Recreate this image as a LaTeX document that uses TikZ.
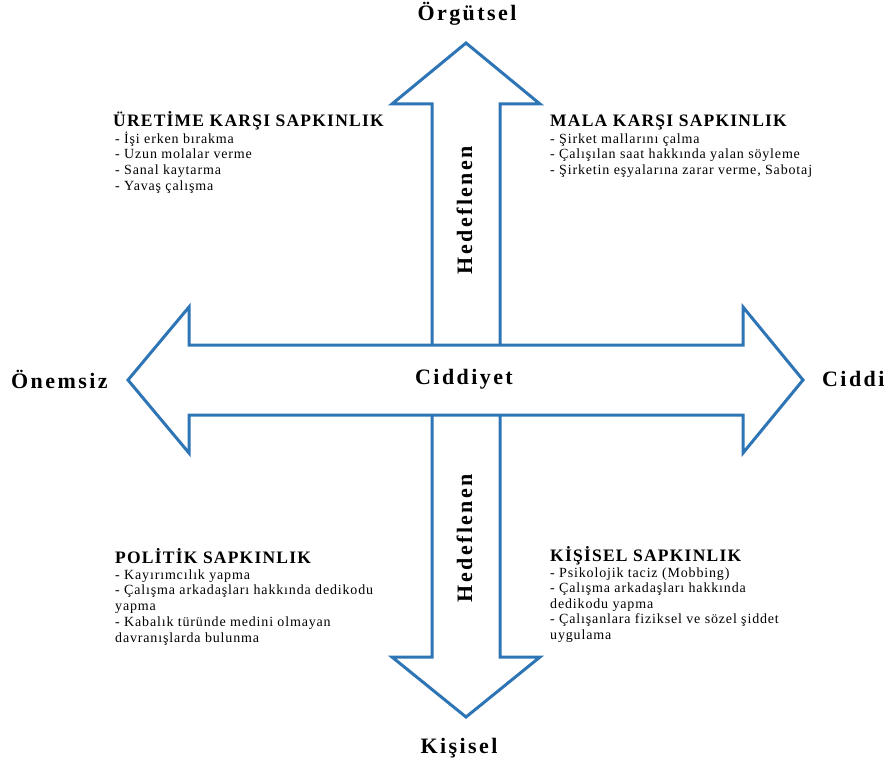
\documentclass[tikz,border=0pt]{standalone}
\usepackage{fontspec}
\setmainfont{Liberation Serif}
\definecolor{arrowblue}{RGB}{46,117,182}
\begin{document}
\begin{tikzpicture}[x=1pt,y=-1pt,
  arrowline/.style={draw=arrowblue, line width=3pt, line join=miter},
  axislbl/.style={inner sep=0pt, font=\fontsize{22}{26}\selectfont\bfseries\addfontfeature{LetterSpace=11}},
  headlbl/.style={inner sep=0pt, anchor=base west, font=\fontsize{17.5}{20}\selectfont\bfseries\addfontfeature{LetterSpace=7}},
  bodylbl/.style={inner sep=0pt, anchor=base west, font=\fontsize{14}{16}\selectfont\addfontfeature{LetterSpace=6}}]
\useasboundingbox (0,0) rectangle (891,765);
\fill[white] (0,0) rectangle (891,765);

% horizontal double arrow
\draw[arrowline] (128,380) -- (189,307) -- (189,345) -- (743,345) -- (743,307)
  -- (803,380) -- (743,453) -- (743,415) -- (189,415) -- (189,453) -- cycle;
% vertical arrow, upper half
\draw[arrowline] (432,345) -- (432,104) -- (392,104) -- (466,43) -- (540,104)
  -- (500,104) -- (500,345);
% vertical arrow, lower half
\draw[arrowline] (432,415) -- (432,657) -- (392,657) -- (466,717) -- (540,657)
  -- (500,657) -- (500,415);

% axis labels
\node[axislbl, anchor=base] (org) at (467,21) {Örgütsel};
\node[axislbl, anchor=base] (kis) at (459,753) {Kişisel};
\node[axislbl, anchor=base west] (onem) at (11,388) {Önemsiz};
\node[axislbl, anchor=base west] (cid) at (822,386) {Ciddi};
\node[axislbl, anchor=base west] (cidy) at (415,384) {Ciddiyet};
\node[axislbl, anchor=base, rotate=90] (hedu) at (472,210) {Hedeflenen};
\node[axislbl, anchor=base, rotate=90] (hedl) at (472,538) {Hedeflenen};

% upper left block
\node[headlbl] (ulh) at (113,127) {ÜRETİME KARŞI SAPKINLIK};
\foreach \t [count=\i] in {- İşi erken bırakma, - Uzun molalar verme, - Sanal kaytarma, - Yavaş çalışma}
  \node[bodylbl] (ul\i) at (115,{143+15.8*(\i-1)}) {\t};

% upper right block
\node[headlbl] (urh) at (550,127) {MALA KARŞI SAPKINLIK};
\foreach \t [count=\i] in {- Şirket mallarını çalma, - Çalışılan saat hakkında yalan söyleme, {- Şirketin eşyalarına zarar verme, Sabotaj}}
  \node[bodylbl] (ur\i) at (550,{143+15.8*(\i-1)}) {\t};

% lower left block
\node[headlbl] (llh) at (115,563) {POLİTİK SAPKINLIK};
\foreach \t [count=\i] in {- Kayırımcılık yapma, - Çalışma arkadaşları hakkında dedikodu, yapma, - Kabalık türünde medini olmayan, davranışlarda bulunma}
  \node[bodylbl] (ll\i) at (115,{579+15.8*(\i-1)}) {\t};

% lower right block
\node[headlbl] (lrh) at (550,561) {KİŞİSEL SAPKINLIK};
\foreach \t [count=\i] in {- Psikolojik taciz (Mobbing), - Çalışma arkadaşları hakkında, dedikodu yapma, - Çalışanlara fiziksel ve sözel şiddet, uygulama}
  \node[bodylbl] (lr\i) at (550,{577+15.6*(\i-1)}) {\t};
\end{tikzpicture}
\end{document}
